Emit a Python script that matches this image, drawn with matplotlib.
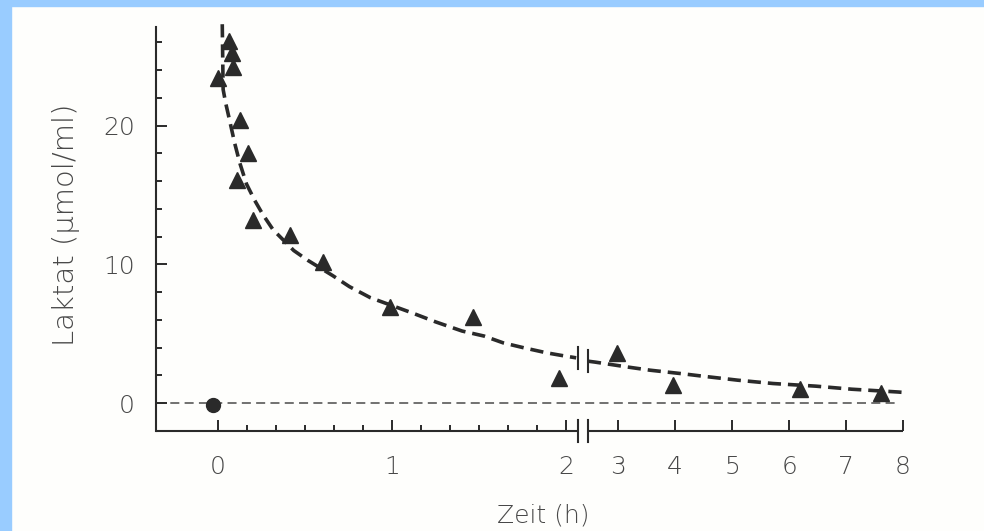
# lactate decay after exercise, broken time axis

import numpy as np
import matplotlib
matplotlib.use("Agg")
import matplotlib.pyplot as plt
from matplotlib.patches import Rectangle
from matplotlib.ticker import NullFormatter

plt.rcParams["lines.scale_dashes"] = False
plt.rcParams["font.family"] = ["DejaVu Sans"]
plt.rcParams["font.weight"] = "light"
plt.rcParams["axes.labelweight"] = "light"

# measured lactate values (triangles)
time_h = [0.0, 0.065, 0.079, 0.088, 0.126, 0.174, 0.107, 0.203, 0.414,
          0.602, 0.989, 1.467, 1.96, 2.98, 3.96, 6.2, 7.61]
laktat = [23.4, 26.1, 25.2, 24.2, 20.4, 18.0, 16.1, 13.2, 12.1,
          10.2, 6.9, 6.2, 1.8, 3.6, 1.3, 1.0, 0.74]

# resting value (circle)
rest_time = [-0.03]
rest_laktat = [-0.1]

# fitted curve, split at the axis break
fit_left_t = [0.025, 0.03, 0.045, 0.065, 0.097, 0.126, 0.164, 0.212, 0.258,
              0.317, 0.436, 0.516, 0.659, 0.756, 0.877, 1.118, 1.254, 1.404,
              1.53, 1.64, 1.76, 1.89, 2.0, 2.06]
fit_left_y = [27.3, 22.6, 21.6, 20.5, 18.7, 17.3, 15.8, 14.6, 13.6,
              12.5, 11.0, 10.3, 9.2, 8.4, 7.6, 6.5, 5.85, 5.2,
              4.84, 4.35, 3.99, 3.63, 3.39, 3.27]
fit_right_t = [2.47, 2.6, 3.18, 3.56, 4.18, 4.44, 5.1, 5.72, 6.47, 7.1, 7.91, 8.0]
fit_right_y = [3.03, 2.96, 2.6, 2.38, 2.1, 1.97, 1.66, 1.42, 1.23, 1.01, 0.81, 0.78]

# axis ticks
xticks_major = [0, 1, 2, 3, 4, 5, 6, 7, 8]
xticks_minor = [1/6, 2/6, 3/6, 4/6, 5/6, 7/6, 8/6, 9/6, 10/6, 11/6]
yticks_major = [0, 10, 20]
yticks_minor = [2, 4, 6, 8, 12, 14, 16, 18, 22, 24, 26]

x_min, x_max = -0.356, 8.0
y_min, y_max = -2.0, 27.1
zero_line_end = 7.93

# axis break: 0-2 h stretched, 3-8 h compressed
brk_a, brk_b = 2.07, 2.47
gap = 10 / 174.0
k = 57.0 / 174.0
src = np.array([-100.0, brk_a, brk_b, 100.0])
dst = np.array([-100.0, brk_a, brk_a + gap, brk_a + gap + (100.0 - brk_b) * k])


def fwd(x):
    return np.interp(x, src, dst)


def inv(u):
    return np.interp(u, dst, src)


ink = "#2a2a2a"
text_col = "#484848"

fig = plt.figure(figsize=(9.84, 5.31), dpi=100, facecolor="#fefefc")
ax = fig.add_axes([156/984, 100/531, 747/984, 404/531])
ax.set_facecolor("none")

ax.set_xscale("function", functions=(fwd, inv))
ax.set_xlim(x_min, x_max)
ax.set_ylim(y_min, y_max)

# zero line
ax.plot([x_min, zero_line_end], [0, 0], color="#4a4a4a", lw=1.1,
        ls=(0, (6.5, 3.8)), zorder=1)

# fitted curve
for t, y in ((fit_left_t, fit_left_y), (fit_right_t, fit_right_y)):
    ax.plot(t, y, color=ink, lw=2.6, ls=(0, (9.5, 5)), clip_on=False,
            zorder=2, dash_capstyle="butt")

ax.plot(time_h, laktat, ls="none", marker="^", ms=12, color=ink,
        mec=ink, zorder=3, clip_on=False)
ax.plot(rest_time, rest_laktat, ls="none", marker="o", ms=10, color=ink,
        zorder=3, clip_on=False)

# spines
for side in ("top", "right", "bottom"):
    ax.spines[side].set_visible(False)
ax.spines["left"].set_linewidth(1.5)
ax.spines["left"].set_color(ink)

trans = ax.get_xaxis_transform()
ax.plot([x_min, brk_a], [0, 0], transform=trans, color=ink, lw=1.5,
        clip_on=False, solid_capstyle="butt")
ax.plot([brk_b, x_max], [0, 0], transform=trans, color=ink, lw=1.5,
        clip_on=False, solid_capstyle="butt")

# break marks on the axis and on the curve
for xb in (brk_a, brk_b):
    ax.plot([xb, xb], [-0.028, 0.028], transform=trans, color=ink, lw=1.5,
            clip_on=False)
ax.plot([brk_a, brk_a], [fit_left_y[-1] - 0.8, fit_left_y[-1] + 0.8],
        color=ink, lw=1.5)
ax.plot([brk_b, brk_b], [fit_right_y[0] - 0.8, fit_right_y[0] + 0.8],
        color=ink, lw=1.5)

ax.set_xticks(xticks_major)
ax.set_xticklabels([str(v) for v in xticks_major])
ax.set_xticks(xticks_minor, minor=True)
ax.xaxis.set_minor_formatter(NullFormatter())
ax.set_yticks(yticks_major)
ax.set_yticks(yticks_minor, minor=True)
ax.yaxis.set_minor_formatter(NullFormatter())

ax.tick_params(which="both", direction="in", color=ink, width=1.4,
               labelcolor=text_col, labelsize=18)
ax.tick_params(which="major", length=8)
ax.tick_params(which="minor", length=4.5)
ax.tick_params(axis="x", which="major", pad=17)
ax.tick_params(axis="y", which="major", pad=15)

ax.set_xlabel("Zeit (h)", fontsize=18, color=text_col)
ax.xaxis.set_label_coords(0.518, -0.208)
ax.xaxis.label.set_va("center")
ax.set_ylabel("Laktat (µmol/ml)", fontsize=21, color=text_col)
ax.yaxis.set_label_coords(-0.12, 0.51)
ax.yaxis.label.set_va("center")

# scan border
fig.add_artist(Rectangle((0, 0), 11/984, 1, transform=fig.transFigure,
                         color="#99ccff", zorder=10))
fig.add_artist(Rectangle((0, 1 - 6/531), 1, 6/531, transform=fig.transFigure,
                         color="#99ccff", zorder=10))

fig.savefig("out.png", dpi=100, facecolor=fig.get_facecolor())
